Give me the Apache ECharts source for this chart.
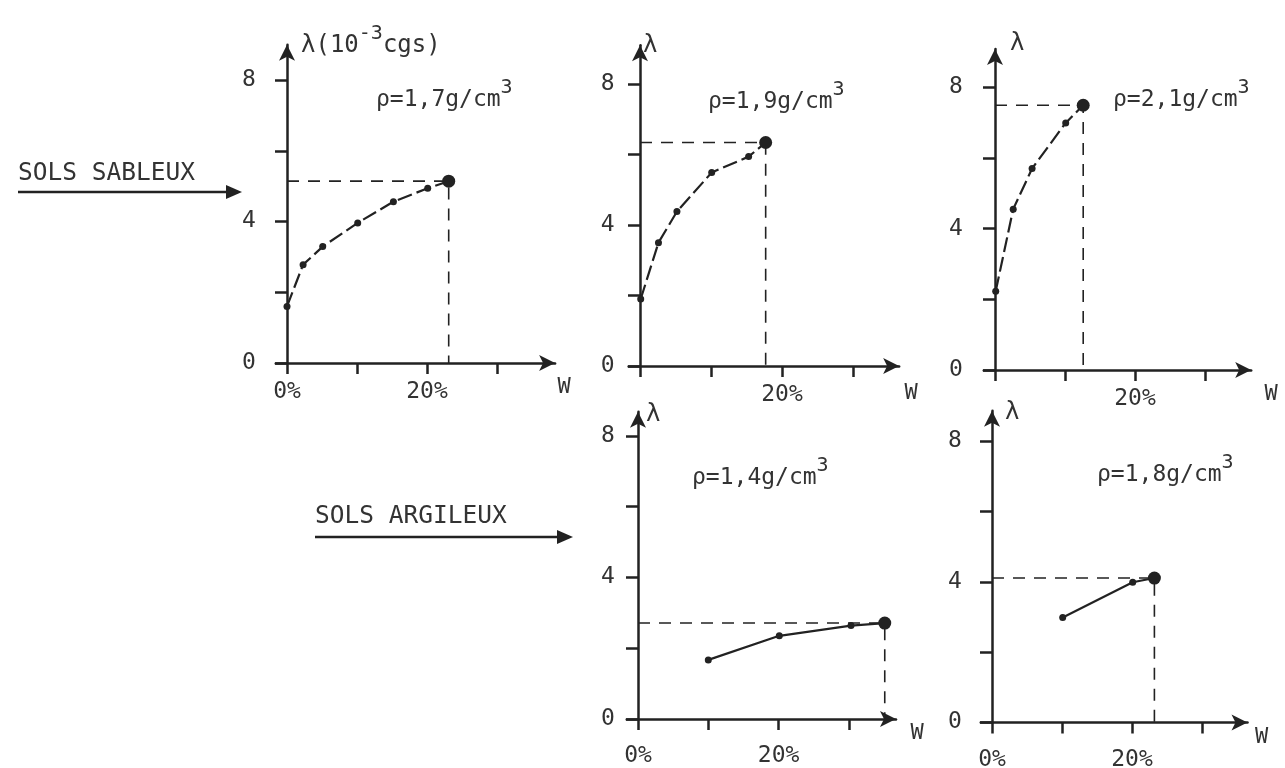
<!DOCTYPE html>
<html><head><meta charset="utf-8">
<script src="https://cdn.jsdelivr.net/npm/echarts@6/dist/echarts.min.js"></script>
<style>html,body{margin:0;padding:0;background:#fff}#c{width:1285px;height:768px}</style>
</head><body><div id="c"></div>
<script>
// ---------- data ----------
const densityLabels = ['ρ=1,7g/cm', 'ρ=1,9g/cm', 'ρ=2,1g/cm', 'ρ=1,4g/cm', 'ρ=1,8g/cm'];
const densitySup = '3';
const groupLabels = ['SOLS SABLEUX', 'SOLS ARGILEUX'];
const yNameMain = ['λ(10', '-3', 'cgs)'];
const yName = 'λ';
const xName = 'W';
// water content w (%) and thermal conductivity λ (10^-3 cgs)
const w17 = [0, 2.3, 5.1, 10.1, 15.2, 20.1];
const lambda17 = [1.6, 2.78, 3.29, 3.96, 4.56, 4.94];
const sat17 = [23.1, 5.14];
const w19 = [0.1, 2.6, 5.2, 10.1, 15.3];
const lambda19 = [1.9, 3.5, 4.38, 5.49, 5.94];
const sat19 = [17.7, 6.34];
const w21 = [0.1, 2.6, 5.3, 10.1];
const lambda21 = [2.23, 4.55, 5.7, 6.99];
const sat21 = [12.6, 7.49];
const w14 = [10.0, 20.1, 30.3];
const lambda14 = [1.67, 2.35, 2.64];
const sat14 = [35.1, 2.71];
const w18 = [10.1, 20.1];
const lambda18 = [2.99, 3.99];
const sat18 = [23.2, 4.11];
const yTicks = [0, 2, 4, 6, 8];
const yTickLabels = [0, 4, 8];
const xTicks = [0, 10, 20, 30];
const xTickLabelsFull = [0, 20];
const xTickLabelsShort = [20];

// ---------- layout ----------
const INK = '#222';
const TXT = '#333';
const FONT = 'DejaVu Sans Mono';
const XMIN = -1.6;
const panels = [
  {w: w17, l: lambda17, sat: sat17, x0: 287, y0: 363, sx: 70, sy: 70.75, xmax: 38.3, ymax: 9.0, dashed: true,
   xl: xTickLabelsFull, ylm: 20, xlm: 18, wGap: 9, wPad: 13, lGap: -1, lPad: 14, main: true, lab: [376, 100]},
  {w: w19, l: lambda19, sat: sat19, x0: 640, y0: 366, sx: 71, sy: 70.5, xmax: 36.5, ymax: 9.1, dashed: true,
   xl: xTickLabelsShort, ylm: 14, xlm: 18, wGap: 12, wPad: 16, lGap: -1, lPad: 3, lab: [708, 102]},
  {w: w21, l: lambda21, sat: sat21, x0: 995, y0: 370, sx: 70, sy: 70.7, xmax: 36.6, ymax: 9.08, dashed: true,
   xl: xTickLabelsShort, ylm: 21, xlm: 18, wGap: 20, wPad: 13, lGap: 5, lPad: 15, lab: [1113, 100]},
  {w: w14, l: lambda14, sat: sat14, x0: 638, y0: 719, sx: 70.3, sy: 70.8, xmax: 36.7, ymax: 8.68, dashed: false,
   xl: xTickLabelsFull, ylm: 12, xlm: 26, wGap: 21, wPad: 3, lGap: -3, lPad: 8, lab: [692, 478]},
  {w: w18, l: lambda18, sat: sat18, x0: 992, y0: 722.5, sx: 70, sy: 70.3, xmax: 36.5, ymax: 8.87, dashed: false,
   xl: xTickLabelsFull, ylm: 19, xlm: 26, wGap: 14, wPad: 4, lGap: -2, lPad: 13, lab: [1097, 475]}
];

const grid = [], xAxis = [], yAxis = [], series = [];
panels.forEach((p, i) => {
  const left = p.x0 + XMIN * p.sx / 10;
  const width = (p.xmax - XMIN) * p.sx / 10;
  const height = p.ymax * p.sy / 2;
  grid.push({left: left, top: p.y0 - height, width: width, height: height, outerBoundsMode: 'none', containLabel: false});
  const lineCommon = {show: true, onZero: true, symbol: ['none', 'arrow'], symbolSize: [12, 16], lineStyle: {color: INK, width: 2.5}};
  xAxis.push({
    gridIndex: i, type: 'value', min: XMIN, max: p.xmax,
    axisLine: lineCommon,
    axisTick: {show: true, customValues: xTicks, length: 11, lineStyle: {color: INK, width: 2.5}},
    axisLabel: {show: true, customValues: p.xl, formatter: v => v + '%', margin: p.xlm, color: TXT, fontFamily: FONT, fontSize: 23},
    splitLine: {show: false},
    name: xName, nameLocation: 'end', nameGap: p.wGap, nameMoveOverlap: false,
    nameTextStyle: {color: TXT, fontFamily: FONT, fontSize: 22, align: 'center', verticalAlign: 'top', padding: [p.wPad, 0, 0, 0]}
  });
  const yNameText = p.main ? '{n|' + yNameMain[0] + '}{s|' + yNameMain[1] + '}{n|' + yNameMain[2] + '}' : yName;
  yAxis.push({
    gridIndex: i, type: 'value', min: 0, max: p.ymax,
    axisLine: lineCommon,
    axisTick: {show: true, customValues: yTicks, length: 12, lineStyle: {color: INK, width: 2.5}},
    axisLabel: {show: true, customValues: yTickLabels, margin: p.ylm, color: TXT, fontFamily: FONT, fontSize: 23},
    splitLine: {show: false},
    name: yNameText, nameLocation: 'end', nameGap: p.lGap, nameMoveOverlap: false,
    nameTextStyle: {color: TXT, fontFamily: FONT, fontSize: 24, align: 'left', verticalAlign: 'middle', padding: [0, 0, 0, p.lPad],
      rich: {n: {fontFamily: FONT, fontSize: 24, color: TXT}, s: {fontFamily: FONT, fontSize: 20, color: TXT, padding: [0, 0, 24, 0]}}}
  });
  const pts = p.w.map((w, k) => ({value: [w, p.l[k]], symbolSize: 7}));
  pts.push({value: p.sat, symbolSize: 13});
  series.push({
    type: 'line', xAxisIndex: i, yAxisIndex: i, data: pts, symbol: 'circle', showSymbol: true, z: 3,
    lineStyle: {color: INK, width: 2.2, type: p.dashed ? [15, 5] : 'solid'}, itemStyle: {color: INK}
  });
  series.push({
    type: 'line', xAxisIndex: i, yAxisIndex: i, symbol: 'none', silent: true, z: 2,
    data: [[0, p.sat[1]], [p.sat[0], p.sat[1]], [p.sat[0], 0]],
    lineStyle: {color: INK, width: 1.6, type: [12, 9]}
  });
});

const graphic = [];
panels.forEach((p, i) => {
  graphic.push({type: 'text', x: p.lab[0], y: p.lab[1], style: {
    text: '{n|' + densityLabels[i] + '}{s|' + densitySup + '}', align: 'left', verticalAlign: 'middle', fill: TXT,
    rich: {n: {fontFamily: FONT, fontSize: 23, fill: TXT, color: TXT}, s: {fontFamily: FONT, fontSize: 20, fill: TXT, color: TXT, padding: [0, 0, 24, 0]}}
  }});
});
// group labels with arrows
const groups = [{t: groupLabels[0], x: 18, y: 174, ax0: 18, ax1: 242, ay: 192},
                {t: groupLabels[1], x: 315, y: 517, ax0: 315, ax1: 573, ay: 537}];
groups.forEach(g => {
  graphic.push({type: 'text', x: g.x, y: g.y, style: {text: g.t, fontFamily: FONT, fontSize: 24.5, fill: TXT, align: 'left', verticalAlign: 'middle'}});
  graphic.push({type: 'line', shape: {x1: g.ax0, y1: g.ay, x2: g.ax1 - 10, y2: g.ay}, style: {stroke: INK, lineWidth: 2.5}});
  graphic.push({type: 'polygon', shape: {points: [[g.ax1, g.ay], [g.ax1 - 16, g.ay - 7], [g.ax1 - 16, g.ay + 7]]}, style: {fill: INK}});
});

const chart = echarts.init(document.getElementById('c'), null, {renderer: 'canvas'});
chart.setOption({animation: false, backgroundColor: '#fff', grid, xAxis, yAxis, series, graphic});
</script>
</body></html>
